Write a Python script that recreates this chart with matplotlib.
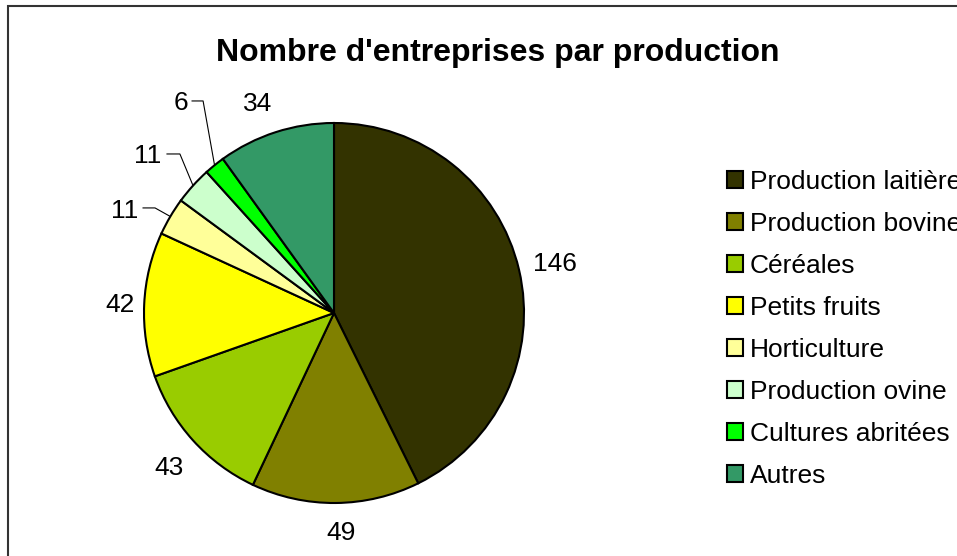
import matplotlib.pyplot as plt
from matplotlib.patches import Rectangle
import numpy as np

plt.rcParams['font.family'] = ['Liberation Sans', 'DejaVu Sans']

productions = ["Production laitière", "Production bovine", "Céréales", "Petits fruits",
               "Horticulture", "Production ovine", "Cultures abritées", "Autres"]
entreprises = [146, 49, 43, 42, 11, 11, 6, 34]
couleurs = ["#333300", "#808000", "#99CC00", "#FFFF00",
            "#FFFF99", "#CCFFCC", "#00FF00", "#339966"]

# position des etiquettes (en rayons), comme dans le graphique Excel
pos_etiq = [(1.163, 0.258), (0.037, -1.158), (-0.868, -0.816), (-1.126, 0.042),
            (-1.10, 0.537), (-0.979, 0.826), (-0.805, 1.105), (-0.40, 1.10)]
# lignes de rappel pour les petites parts
rappel = {4: (-1.005, 0.553, -0.942), 5: (-0.879, 0.837, -0.811), 6: (-0.747, 1.116, -0.689)}

fig = plt.figure(figsize=(9.57, 5.56), dpi=100)
W, H = 957, 556
cx, cy, R = 334, 313, 190

ax = fig.add_axes([(cx - R) / W, (H - cy - R) / H, 2 * R / W, 2 * R / H])
wedges, _ = ax.pie(entreprises, colors=couleurs, startangle=90, counterclock=False,
                   radius=1, wedgeprops=dict(edgecolor="black", linewidth=1.5))
ax.set_xlim(-1, 1)
ax.set_ylim(-1, 1)
ax.axis("off")

for i, w in enumerate(wedges):
    x, y = pos_etiq[i]
    ax.text(x, y, str(entreprises[i]), ha="center", va="center", fontsize=19, clip_on=False)
    if i in rappel:
        x0, y0, x1 = rappel[i]
        a = np.deg2rad((w.theta1 + w.theta2) / 2)
        ax.plot([x0, x1, np.cos(a)], [y0, y0, np.sin(a)], color="black", lw=0.8, clip_on=False)

fig.text(498 / W, 1 - 53 / H, "Nombre d'entreprises par production",
         ha="center", va="center", fontsize=23, fontweight="bold")

fig.legend(wedges, productions, loc="upper left", bbox_to_anchor=(727 / W, 1 - 170 / H),
           frameon=False, fontsize=19, handlelength=0.6, handleheight=0.6,
           handletextpad=0.27, labelspacing=0.68, borderpad=0, borderaxespad=0)

fig.patches.append(Rectangle((8 / W, -0.1), 1.2, 1.1 - 6 / H, transform=fig.transFigure,
                             fill=False, edgecolor="#333333", linewidth=1.5))

fig.savefig("out.png", dpi=100)
